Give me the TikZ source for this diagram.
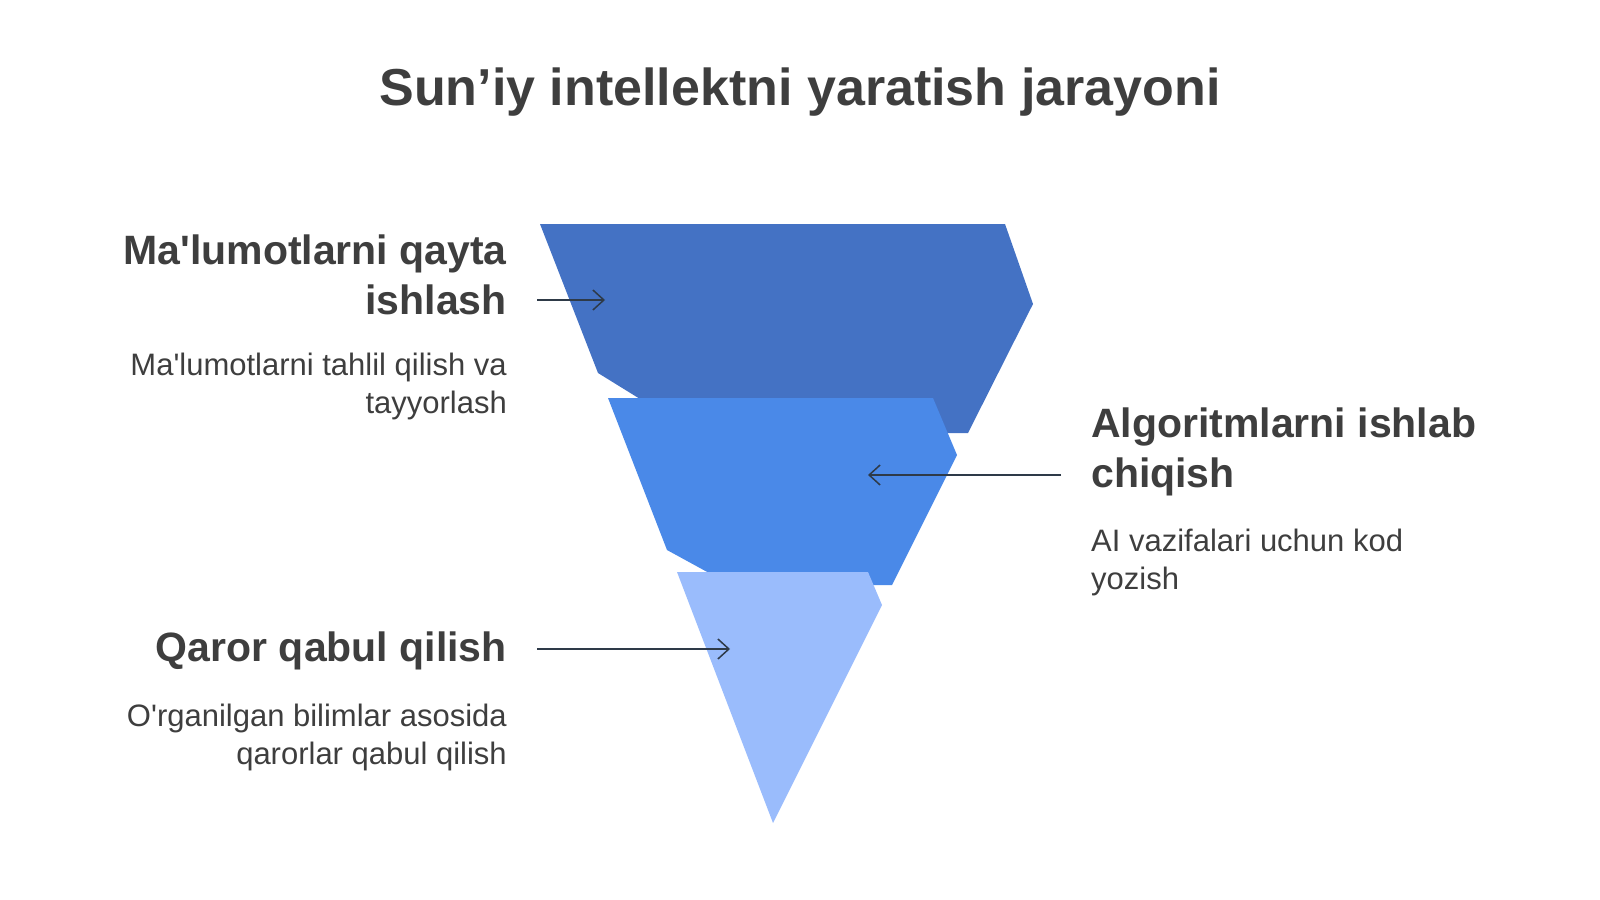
\documentclass[tikz,border=0pt]{standalone}
\usepackage{fontspec}
\setmainfont{Liberation Sans}
\usepackage{xcolor}
\usepackage{tikz}
\usetikzlibrary{arrows.meta}
\definecolor{textgrey}{HTML}{3E3E3E}
\definecolor{layerdark}{HTML}{4472C4}
\definecolor{layermid}{HTML}{4A89E8}
\definecolor{layerlight}{HTML}{9ABCFC}
\definecolor{arrowgrey}{HTML}{2E3A48}
\tikzstyle{title} = [font=\fontsize{52}{60}\selectfont\bfseries, text=textgrey, inner sep=0pt]
\tikzstyle{heading} = [font=\fontsize{41}{50}\selectfont\bfseries, text=textgrey, inner sep=0pt]
\tikzstyle{desc} = [font=\fontsize{31}{38}\selectfont, text=textgrey, inner sep=0pt]
\tikzstyle{arrow} = [line width=1.5pt, draw=arrowgrey, -{Straight Barb[length=11pt,width=20pt]}]

\begin{document}
\begin{tikzpicture}[x=1pt,y=-1pt]
	\useasboundingbox (0,0) rectangle (1600,899);

	\node (title) [title, anchor=base] at (800,105) {Sun’iy intellektni yaratish jarayoni};

	% funnel layers
	\fill [layerdark] (540,224) -- (1005,224) -- (1033,304) -- (968,433) -- (695,433) -- (598,373) -- cycle;
	\fill [layermid] (608,398) -- (933,398) -- (957,455) -- (892,585) -- (731,585) -- (667,550) -- cycle;
	\fill [layerlight] (677,572) -- (868,572) -- (882,605) -- (773,823) -- cycle;

	% base anchor sits on the last line
	\node (proc) [heading, anchor=base east, align=right] at (507,314) {Ma\textquotesingle lumotlarni qayta\\ishlash};
	\node (procdesc) [desc, anchor=base east, align=right] at (507,413) {Ma\textquotesingle lumotlarni tahlil qilish va\\tayyorlash};
	\node (algo) [heading, anchor=base west, align=left] at (1091,487) {Algoritmlarni ishlab\\chiqish};
	\node (algodesc) [desc, anchor=base west, align=left] at (1091,589) {AI vazifalari uchun kod\\yozish};
	\node (decide) [heading, anchor=base east, align=right] at (507,661) {Qaror qabul qilish};
	\node (decidedesc) [desc, anchor=base east, align=right] at (507,764) {O\textquotesingle rganilgan bilimlar asosida\\qarorlar qabul qilish};

	\coordinate (procstart) at (537,300);
	\coordinate (proctip) at (605,300);
	\coordinate (algostart) at (1061,475);
	\coordinate (algotip) at (868,475);
	\coordinate (decidestart) at (537,649);
	\coordinate (decidetip) at (730,649);

	\draw [arrow] (procstart) -- (proctip);
	\draw [arrow] (algostart) -- (algotip);
	\draw [arrow] (decidestart) -- (decidetip);
\end{tikzpicture}
\end{document}
